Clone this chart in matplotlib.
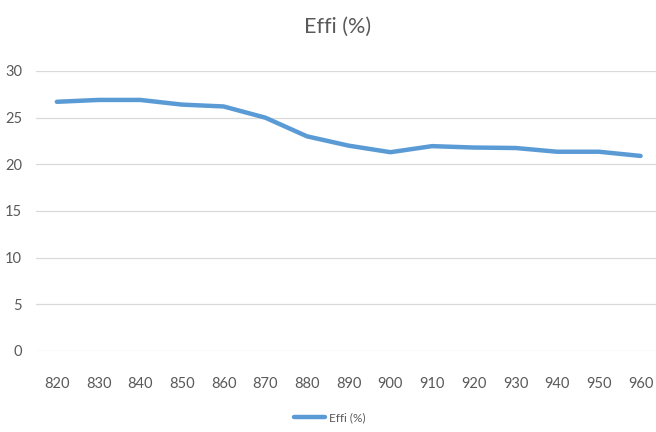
import matplotlib
matplotlib.use("Agg")
import matplotlib.pyplot as plt

# chart data
wavelength = [820, 830, 840, 850, 860, 870, 880, 890, 900, 910, 920, 930, 940, 950, 960]
effi = [26.7, 26.9, 26.9, 26.4, 26.2, 25.0, 23.0, 22.0, 21.3, 21.95, 21.8, 21.75, 21.35, 21.35, 20.9]
y_ticks = [0, 5, 10, 15, 20, 25, 30]

plt.rcParams["font.family"] = ["Lato", "DejaVu Sans"]

fig = plt.figure(figsize=(6.56, 4.32), dpi=100)
ax = fig.add_axes([36 / 656, 81 / 432, 620 / 656, 280 / 432])

x = list(range(len(wavelength)))
ax.plot(x, effi, color="#5B9BD5", linewidth=3.2, solid_capstyle="round",
        solid_joinstyle="round", label="Effi (%)")

ax.set_xlim(-0.5, 14.37)
ax.set_ylim(0, 30)
ax.set_yticks(y_ticks)
ax.set_xticks(x)
ax.set_xticklabels([str(w) for w in wavelength])
ax.yaxis.grid(True, color="#D9D9D9", linewidth=0.9)
ax.set_axisbelow(True)
for s in ax.spines.values():
    s.set_visible(False)
ax.tick_params(axis="both", length=0, colors="#595959", labelsize=10.5)
ax.tick_params(axis="x", pad=19)
ax.tick_params(axis="y", pad=10)

fig.text(338 / 656, 1 - 27 / 432, "Effi (%)", ha="center", va="center",
         fontsize=15.5, color="#595959")
fig.legend(loc="center", bbox_to_anchor=(330 / 656, 1 - 418 / 432), frameon=False,
           fontsize=8.5, labelcolor="#595959", handlelength=2.6, handletextpad=0.4)

fig.savefig("out.png", dpi=100)
